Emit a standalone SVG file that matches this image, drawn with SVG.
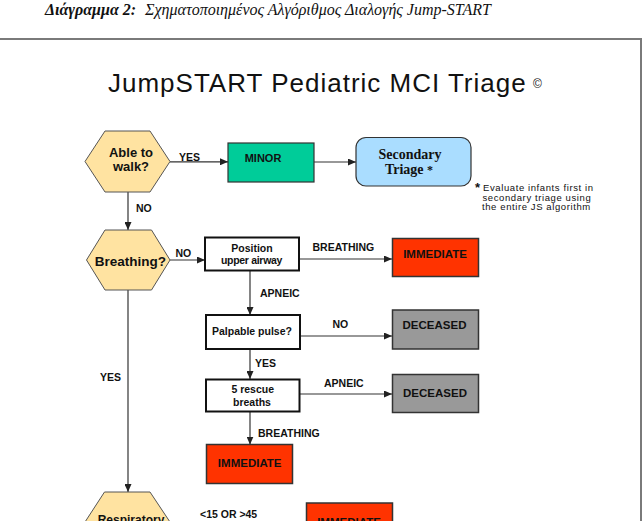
<svg xmlns="http://www.w3.org/2000/svg" width="644" height="521" viewBox="0 0 644 521">
<defs>
<marker id="arr" markerWidth="8" markerHeight="7" refX="8" refY="3.5" orient="auto" markerUnits="userSpaceOnUse"><path d="M0,0 L8,3.5 L0,7 z" fill="#222"/></marker>
</defs>
<style>
text{font-family:"Liberation Sans",Arial,sans-serif;fill:#111}
.hex{fill:#FFE3A1;stroke:#555;stroke-width:1}
.box{fill:#fff;stroke:#111;stroke-width:2}
.imm{fill:#FF3300;stroke:#333;stroke-width:1.5}
.dec{fill:#999999;stroke:#333;stroke-width:1.5}
.min{fill:#00CC99;stroke:#333;stroke-width:1.2}
.sec{fill:#AADDFF;stroke:#333;stroke-width:1.2}
.c{stroke:#333;stroke-width:1.2;fill:none;marker-end:url(#arr)}
.lbl{font-size:10.5px;font-weight:bold}
.ht{font-size:13px;font-weight:bold;text-anchor:middle}
.bt{font-size:10.5px;font-weight:bold;text-anchor:middle}
.tt{font-size:11.5px;font-weight:bold;text-anchor:middle}
.note{font-size:9.5px;letter-spacing:0.6px}
.frame{stroke:#7a7a7a;stroke-width:2;fill:none}
</style>
<g id="caption">
<text x="45" y="15" style="font-family:'Liberation Serif','Times New Roman',serif;font-size:16px;font-style:italic"><tspan font-weight="bold">Διάγραμμα 2:</tspan><tspan x="145">Σχηματοποιημένος Αλγόριθμος Διαλογής Jump-START</tspan></text>
</g>
<path class="frame" d="M0,39 H641 V521"/>
<g id="title">
<text x="108" y="92" style="font-size:26px;letter-spacing:1px">JumpSTART Pediatric MCI Triage</text>
<text x="533" y="88" style="font-size:12px">©</text>
</g>
<g id="connectors">
<path class="c" d="M170,161.8 H228"/>
<path class="c" d="M314,162 H356"/>
<path class="c" d="M128,192 V230"/>
<path class="c" d="M170,260 H205"/>
<path class="c" d="M299,259 H392"/>
<path class="c" d="M250,271 V315"/>
<path class="c" d="M300,336 H392"/>
<path class="c" d="M250,349 V379"/>
<path class="c" d="M300,394 H392"/>
<path class="c" d="M250,412 V444.5"/>
<path class="c" d="M128,290 V492"/>
<path class="c" d="M170,524.5 H306"/>
<text class="lbl" x="179" y="160.5">YES</text>
<text class="lbl" x="136" y="212">NO</text>
<text class="lbl" x="175.5" y="256.5">NO</text>
<text class="lbl" x="312.5" y="251">BREATHING</text>
<text class="lbl" x="260" y="296.5">APNEIC</text>
<text class="lbl" x="332.5" y="328">NO</text>
<text class="lbl" x="255" y="366.5">YES</text>
<text class="lbl" x="324" y="386.5">APNEIC</text>
<text class="lbl" x="258" y="437">BREATHING</text>
<text class="lbl" x="100" y="381">YES</text>
<text class="lbl" x="200" y="518">&lt;15 OR &gt;45</text>
</g>
<g id="able">
<polygon class="hex" points="85,161.5 105,131 150,131 170,161.5 150,192 105,192"/>
<text class="ht" x="131" y="156.7">Able to</text>
<text class="ht" x="131" y="170.5">walk?</text>
</g>
<g id="minor">
<rect class="min" x="228" y="143" width="86" height="39"/>
<text class="tt" x="263" y="161.5" style="font-size:11px">MINOR</text>
</g>
<g id="secondary">
<rect class="sec" x="356" y="137.5" width="115" height="48.5" rx="10" ry="10"/>
<text x="410" y="159" style="font-family:'Liberation Serif','Times New Roman',serif;font-size:14px;font-weight:bold;text-anchor:middle">Secondary</text>
<text x="409" y="173.5" style="font-family:'Liberation Serif','Times New Roman',serif;font-size:14px;font-weight:bold;text-anchor:middle">Triage <tspan style="font-size:12px">*</tspan></text>
</g>
<g id="note">
<text x="475" y="192" style="font-size:13px;font-weight:bold">*</text>
<text class="note" x="483" y="191">Evaluate infants first in</text>
<text class="note" x="482.5" y="200.5">secondary triage using</text>
<text class="note" x="482" y="210">the entire JS algorithm</text>
</g>
<g id="breathing">
<polygon class="hex" points="86.5,260 105,230 151.5,230 170,260 151.5,290 105,290"/>
<text class="ht" x="130.3" y="266" style="font-size:13.5px">Breathing?</text>
</g>
<g id="position">
<rect class="box" x="205" y="237.5" width="94" height="33"/>
<text class="bt" x="252" y="251.7">Position</text>
<text class="bt" x="251.5" y="264" style="letter-spacing:-0.3px">upper airway</text>
</g>
<g id="immediate1">
<rect class="imm" x="392.5" y="238.5" width="86" height="38"/>
<text class="tt" x="435" y="258">IMMEDIATE</text>
</g>
<g id="palpable">
<rect class="box" x="206" y="315" width="94" height="34"/>
<text class="bt" x="252" y="334.5">Palpable pulse?</text>
</g>
<g id="deceased1">
<rect class="dec" x="392.5" y="310" width="86" height="39"/>
<text class="tt" x="434.5" y="329">DECEASED</text>
</g>
<g id="rescue">
<rect class="box" x="206" y="379.5" width="93.5" height="32"/>
<text class="bt" x="252.7" y="393">5 rescue</text>
<text class="bt" x="252" y="406">breaths</text>
</g>
<g id="deceased2">
<rect class="dec" x="392.5" y="374.5" width="86" height="38"/>
<text class="tt" x="435" y="396.5">DECEASED</text>
</g>
<g id="immediate2">
<rect class="imm" x="206.5" y="444.5" width="86" height="39"/>
<text class="tt" x="249.7" y="467.3">IMMEDIATE</text>
</g>
<g id="respiratory">
<polygon class="hex" points="85,522 104.5,492 150,492 170,522 150,552 104.5,552"/>
<text class="ht" x="131" y="524" style="font-size:12px">Respiratory</text>
</g>
<g id="immediate3">
<rect class="imm" x="306.5" y="503" width="86" height="39"/>
<text class="tt" x="349" y="525.5">IMMEDIATE</text>
</g>
</svg>
